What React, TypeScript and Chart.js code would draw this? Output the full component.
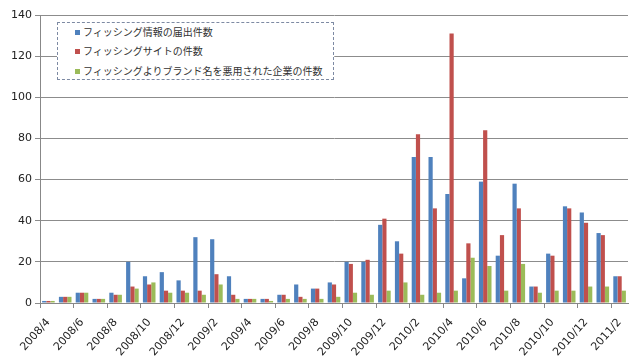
import React, { useEffect, useRef } from "react";
import { Chart, registerables } from "chart.js";

Chart.register(...registerables);

const months: string[] = [
  "2008/4", "2008/5", "2008/6", "2008/7", "2008/8", "2008/9", "2008/10", "2008/11", "2008/12",
  "2009/1", "2009/2", "2009/3", "2009/4", "2009/5", "2009/6", "2009/7", "2009/8", "2009/9",
  "2009/10", "2009/11", "2009/12",
  "2010/1", "2010/2", "2010/3", "2010/4", "2010/5", "2010/6", "2010/7", "2010/8", "2010/9",
  "2010/10", "2010/11", "2010/12",
  "2011/1", "2011/2",
];

const reports: number[] = [
  1, 3, 5, 2, 5, 20, 13, 15, 11,
  32, 31, 13, 2, 2, 4, 9, 7, 10, 20, 20, 38,
  30, 71, 71, 53, 12, 59, 23, 58, 8, 24, 47, 44,
  34, 13,
];

const sites: number[] = [
  1, 3, 5, 2, 4, 8, 9, 6, 6,
  6, 14, 4, 2, 2, 4, 3, 7, 9, 19, 21, 41,
  24, 82, 46, 131, 29, 84, 33, 46, 8, 23, 46, 39,
  33, 13,
];

const brands: number[] = [
  1, 3, 5, 2, 4, 7, 10, 5, 5,
  4, 9, 2, 2, 1, 2, 2, 2, 3, 5, 4, 6,
  10, 4, 5, 6, 22, 18, 6, 19, 5, 6, 6, 8,
  8, 6,
];

const seriesNames: string[] = [
  "フィッシング情報の届出件数",
  "フィッシングサイトの件数",
  "フィッシングよりブランド名を悪用された企業の件数",
];

const seriesColors: string[] = ["#4F81BD", "#C0504D", "#9BBB59"];

const yTicks = { min: 0, max: 140, step: 20 };

export default function App() {
  const ref = useRef<HTMLCanvasElement | null>(null);

  useEffect(() => {
    if (!ref.current) return;
    const chart = new Chart(ref.current, {
      type: "bar",
      data: {
        labels: months,
        datasets: [reports, sites, brands].map((d, i) => ({
          label: seriesNames[i],
          data: d,
          backgroundColor: seriesColors[i],
          borderWidth: 0,
          categoryPercentage: 0.75,
          barPercentage: 1.0,
        })),
      },
      options: {
        responsive: false,
        animation: false,
        layout: { padding: { top: 15, right: 12, left: 0, bottom: 0 } },
        plugins: {
          legend: { display: false },
          tooltip: { enabled: false },
        },
        scales: {
          x: {
            offset: true,
            grid: {
              drawOnChartArea: false,
              drawTicks: true,
              tickLength: 5,
              color: (ctx: any) => (ctx.index % 2 === 0 ? "#888888" : "rgba(0,0,0,0)"),
              offset: true,
            },
            border: { display: true, color: "#888888" },
            ticks: {
              autoSkip: false,
              maxRotation: 48,
              minRotation: 48,
              padding: 8,
              color: "#222222",
              font: { family: "'DejaVu Sans', sans-serif", size: 11 },
              callback: (_v: any, i: number) => (i % 2 === 0 ? months[i] : ""),
            },
            afterFit: (s: any) => {
              s.height = 57;
            },
          },
          y: {
            min: yTicks.min,
            max: yTicks.max,
            ticks: {
              stepSize: yTicks.step,
              padding: 3,
              color: "#222222",
              font: { family: "'DejaVu Sans', sans-serif", size: 11 },
            },
            grid: { color: "#8c8c8c", tickLength: 5, lineWidth: 1 },
            border: { display: true, color: "#888888" },
            afterFit: (s: any) => {
              s.width = 40;
            },
          },
        },
      },
    });
    return () => chart.destroy();
  }, []);

  const rowTops = [25, 44, 64];

  return (
    <div style={{ position: "fixed", left: 0, top: 0, width: 640, height: 360, background: "#fff" }}>
      <canvas ref={ref} width={640} height={360} style={{ display: "block" }} />
      <div
        style={{
          position: "absolute",
          left: 57,
          top: 22,
          width: 277,
          height: 58,
          border: "1px dashed #7d8aa3",
          background: "#fff",
          boxSizing: "border-box",
        }}
      />
      {seriesNames.map((name, i) => (
        <div
          key={name}
          style={{
            position: "absolute",
            left: 75,
            top: rowTops[i],
            height: 14,
            lineHeight: "14px",
            display: "flex",
            alignItems: "center",
            fontFamily: "'Noto Sans CJK JP', sans-serif",
            fontSize: 10,
            color: "#333",
            whiteSpace: "nowrap",
          }}
        >
          <span
            style={{
              display: "inline-block",
              width: 5,
              height: 5,
              background: seriesColors[i],
              marginRight: 3,
            }}
          />
          <span>{name}</span>
        </div>
      ))}
    </div>
  );
}
